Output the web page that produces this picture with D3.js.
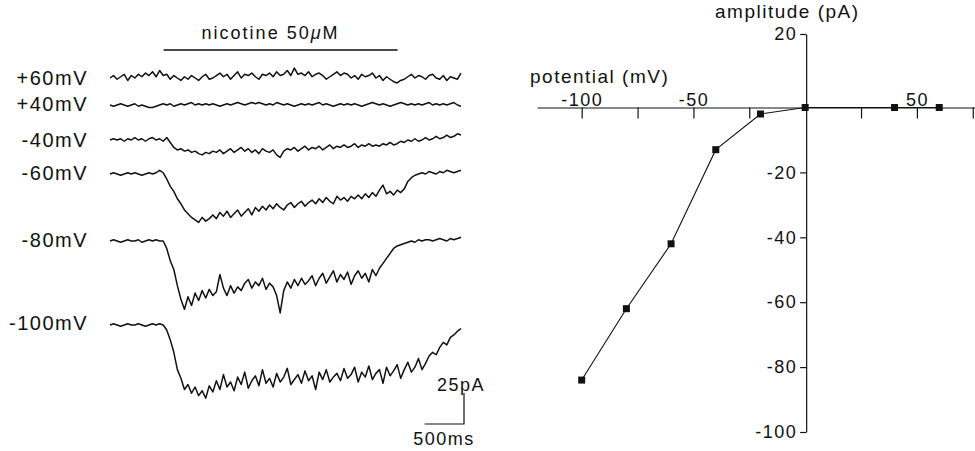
<!DOCTYPE html>
<html>
<head>
<meta charset="utf-8">
<script src="https://cdn.jsdelivr.net/npm/d3@7"></script>
<style>
  body { margin: 0; background: #fff; }
  svg text { font-family: "Liberation Sans", Arial, Helvetica, sans-serif; fill: #111; }
</style>
</head>
<body>
<svg id="chart" width="975" height="451"></svg>
<script>
// ---- whole-cell current traces (pA, one sample every 45 ms) ----
const holdingLabels = ['+60mV', '+40mV', '-40mV', '-60mV', '-80mV', '-100mV'];
const sampleMs = 45;

const tracePlus60 = [0,2,-1,1,3,-2,2,0,3,1, 4,2,5,1,6,2,3,-1,2,0, -2,1,-1,2,0,-2,1,3,-1,0, 2,4,1,3,-1,2,5,0,3,2,
  4,1,-1,3,2,4,1,5,2,3, 6,2,8,3,4,2,5,1,3,4, 2,-1,1,3,5,2,4,3,0,2, -1,3,1,2,4,0,2,-2,1,-1, -3,-4,-2,-1,1,3,0,2,1,-1,
  2,3,0,-1,2,-2,1,0,-1,4];
const tracePlus40 = [0,-1,0,1,0,-1,0,1,-1,0, -1,-2,-2,-1,0,1,0,1,-1,0, 1,0,1,2,0,1,0,1,0,1, 0,-1,0,1,0,1,2,1,0,1,
  2,1,2,1,0,1,0,2,1,0, 1,0,-1,0,1,0,1,0,1,2, 0,1,0,-1,0,1,0,1,0,1, 0,-1,0,1,2,1,0,1,0,-1, 0,1,2,1,0,1,0,1,0,1,
  2,0,1,0,1,0,1,2,0,-1];
const traceMinus40 = [0,1,0,1,-1,1,0,2,0,1, -1,1,2,0,1,-1,2,-2,-6,-8, -7,-9,-8,-10,-9,-11,-12,-10,-11,-9,
  -10,-8,-11,-9,-7,-10,-8,-6,-9,-7, -10,-8,-11,-7,-9,-10,-8,-12,-14,-9, -7,-8,-6,-9,-7,-5,-8,-6,-7,-5,
  -8,-6,-4,-7,-5,-6,-4,-6,-5,-3, -6,-4,-5,-3,-5,-4,-5,-3,-4,-2, -4,-3,-1,-2,0,-1,1,-1,0,2, 0,1,3,1,2,4,2,3,5,4];
const traceMinus60 = [0,1,0,-1,0,1,0,1,0,-1, 0,1,0,1,3,1,-4,-10,-14,-20, -24,-29,-32,-35,-37,-39,-35,-38,-36,-33,
  -36,-31,-34,-30,-35,-32,-29,-34,-31,-28, -33,-27,-30,-26,-29,-25,-28,-24,-27,-29, -25,-23,-27,-24,-22,-26,-23,-21,-24,-20,
  -23,-19,-22,-24,-18,-21,-19,-22,-18,-20, -17,-20,-16,-19,-15,-18,-13,-9,-16,-14, -17,-13,-15,-12,-6,-3,-1,0,1,0,
  2,1,0,2,1,3,2,1,2,3];
const traceMinus80 = [0,1,0,-1,0,1,0,0,1,-1, 0,1,0,1,0,0,-6,-16,-23,-36, -47,-55,-45,-52,-42,-48,-40,-46,-39,-44,
  -41,-27,-38,-44,-36,-42,-37,-40,-34,-31, -38,-33,-36,-30,-39,-34,-37,-44,-58,-40, -33,-38,-31,-36,-30,-35,-32,-28,-36,-30,
  -26,-34,-29,-24,-33,-27,-31,-25,-35,-28, -24,-30,-26,-33,-23,-28,-22,-18,-14,-10, -6,-4,-3,-2,-1,0,-1,1,0,1,
  1,0,1,2,1,0,2,1,2,3];
const traceMinus100 = [0,1,0,-1,0,1,0,0,1,0, -1,0,1,0,1,0,-4,-12,-22,-36, -43,-52,-48,-55,-50,-57,-53,-59,-49,-54,
  -45,-52,-40,-50,-46,-53,-42,-48,-38,-51, -45,-41,-49,-36,-47,-43,-50,-39,-46,-42, -35,-48,-44,-40,-47,-37,-45,-41,-52,-38,
  -44,-36,-46,-42,-39,-45,-35,-43,-40,-34, -46,-38,-42,-33,-44,-39,-36,-47,-34,-41, -37,-32,-43,-36,-30,-38,-34,-27,-36,-31,
  -25,-22,-24,-18,-14,-16,-10,-8,-5,-3];
const traces = [tracePlus60, tracePlus40, traceMinus40, traceMinus60, traceMinus80, traceMinus100];

// nicotine application (ms) and calibration bars
const nicotineWindow = [680, 3650];
const scaleBarPA = 25;
const scaleBarMs = 500;

// ---- I-V relation ----
const ivPotential = [-100, -80, -60, -40, -20, 0, 40, 60];
const ivAmplitude = [-84, -62, -42, -13, -2, 0, 0, 0];
const xTicks = [-100, -75, -50, -25, 25, 50, 75];
const xTickLabels = [-100, -50, 50];
const yTicks = [-100, -80, -60, -40, -20, 20];

const svg = d3.select('#chart');

// left panel: traces
const tScale = d3.scaleLinear().domain([0, 99 * sampleMs]).range([110, 461]);
const pxPerPA = 1.24;
const traceBaseY = [78, 105, 140, 174, 241, 325];
const labelY = [78, 104, 140, 173, 240, 323];

const currentScale = (base) => d3.scaleLinear().domain([-100, 100]).range([base + 100 * pxPerPA, base - 100 * pxPerPA]);

const left = svg.append('g').classed('traces', true);

traces.forEach((trace, k) => {
    const y = currentScale(traceBaseY[k]);
    const line = d3.line()
        .x((d, i) => tScale(i * sampleMs))
        .y(d => y(d));
    left.append('path')
        .datum(trace)
        .attr('d', line)
        .style('fill', 'none')
        .style('stroke', '#111')
        .style('stroke-width', 1.5)
        .style('stroke-linejoin', 'round');
});

left.selectAll('.vlabel')
    .data(holdingLabels)
    .enter().append('text')
    .classed('vlabel', true)
    .attr('x', 88)
    .attr('y', (d, i) => labelY[i])
    .attr('dy', '0.35em')
    .attr('text-anchor', 'end')
    .style('font-size', '20px')
    .style('letter-spacing', '1.5px')
    .text(d => d);

// nicotine bar
left.append('line')
    .attr('x1', tScale(nicotineWindow[0])).attr('x2', tScale(nicotineWindow[1]))
    .attr('y1', 50).attr('y2', 50)
    .style('stroke', '#111').style('stroke-width', 1.3);
const nic = left.append('text')
    .attr('x', (tScale(nicotineWindow[0]) + tScale(nicotineWindow[1])) / 2 - 10)
    .attr('y', 33).attr('dy', '0.35em')
    .attr('text-anchor', 'middle')
    .style('font-size', '18px')
    .style('letter-spacing', '2px');
nic.append('tspan').text('nicotine 50');
nic.append('tspan').style('font-style', 'italic').text('\u03bc');
nic.append('tspan').text('M');

// calibration bars
const barY = currentScale(424);
const barX = tScale(99 * sampleMs) + 3;
left.append('path')
    .attr('d', `M${barX - (tScale(scaleBarMs) - tScale(0))},${barY(0)}H${barX}V${barY(scaleBarPA)}`)
    .style('fill', 'none').style('stroke', '#111').style('stroke-width', 1.2);
left.append('text')
    .attr('x', barX - 27).attr('y', 385).attr('dy', '0.35em')
    .style('font-size', '18px').style('letter-spacing', '1.5px')
    .text(scaleBarPA + 'pA');
left.append('text')
    .attr('x', barX - 20).attr('y', 439).attr('dy', '0.35em')
    .attr('text-anchor', 'middle')
    .style('font-size', '18px').style('letter-spacing', '1.5px')
    .text(scaleBarMs + 'ms');

// right panel: I-V plot
const xIV = d3.scaleLinear().domain([-120, 76]).range([537, 975]);
const yIV = d3.scaleLinear().domain([-100, 0, 20]).range([432, 107.5, 34]);
const plain = d => String(d);

const xAxis = svg.append('g')
    .classed('x-axis', true)
    .attr('transform', `translate(0,${yIV(0)})`)
    .call(d3.axisBottom(xIV).tickValues(xTicks).tickSize(11).tickSizeOuter(0).tickFormat(''));

const xLabels = svg.append('g')
    .classed('x-labels', true)
    .attr('transform', `translate(0,${yIV(0)})`)
    .call(d3.axisTop(xIV).tickValues(xTickLabels).tickSize(0).tickPadding(2).tickFormat(plain));
xLabels.select('.domain').remove();

const yAxis = svg.append('g')
    .classed('y-axis', true)
    .attr('transform', `translate(${xIV(0) + 1},0)`)
    .call(d3.axisLeft(yIV).tickValues(yTicks).tickSize(6).tickSizeOuter(0).tickPadding(3).tickFormat(plain));

svg.selectAll('.x-axis path, .x-axis line, .y-axis path, .y-axis line')
    .style('stroke', '#111').style('stroke-width', 1.2);
svg.selectAll('.x-labels text, .y-axis text')
    .style('font-size', '18px')
    .style('font-family', '"Liberation Sans", Arial, Helvetica, sans-serif')
    .style('letter-spacing', '1.5px')
    .style('fill', '#111');

svg.append('text')
    .attr('x', 530).attr('y', 76).attr('dy', '0.35em')
    .style('font-size', '19px').style('letter-spacing', '1.5px')
    .text('potential (mV)');
svg.append('text')
    .attr('x', 715).attr('y', 11).attr('dy', '0.35em')
    .style('font-size', '19px').style('letter-spacing', '1.5px')
    .text('amplitude (pA)');

const ivData = ivPotential.map((v, i) => ({x: v, y: ivAmplitude[i]}));
const ivLine = d3.line()
    .x(d => xIV(d.x))
    .y(d => yIV(d.y));
svg.append('path')
    .datum(ivData)
    .attr('d', ivLine)
    .style('fill', 'none').style('stroke', '#111').style('stroke-width', 1.1);
svg.selectAll('.dot')
    .data(ivData)
    .enter().append('rect')
    .classed('dot', true)
    .attr('x', d => xIV(d.x) - 3.5)
    .attr('y', d => yIV(d.y) - 3.5)
    .attr('width', 7).attr('height', 7)
    .style('fill', '#111');
</script>
</body>
</html>
